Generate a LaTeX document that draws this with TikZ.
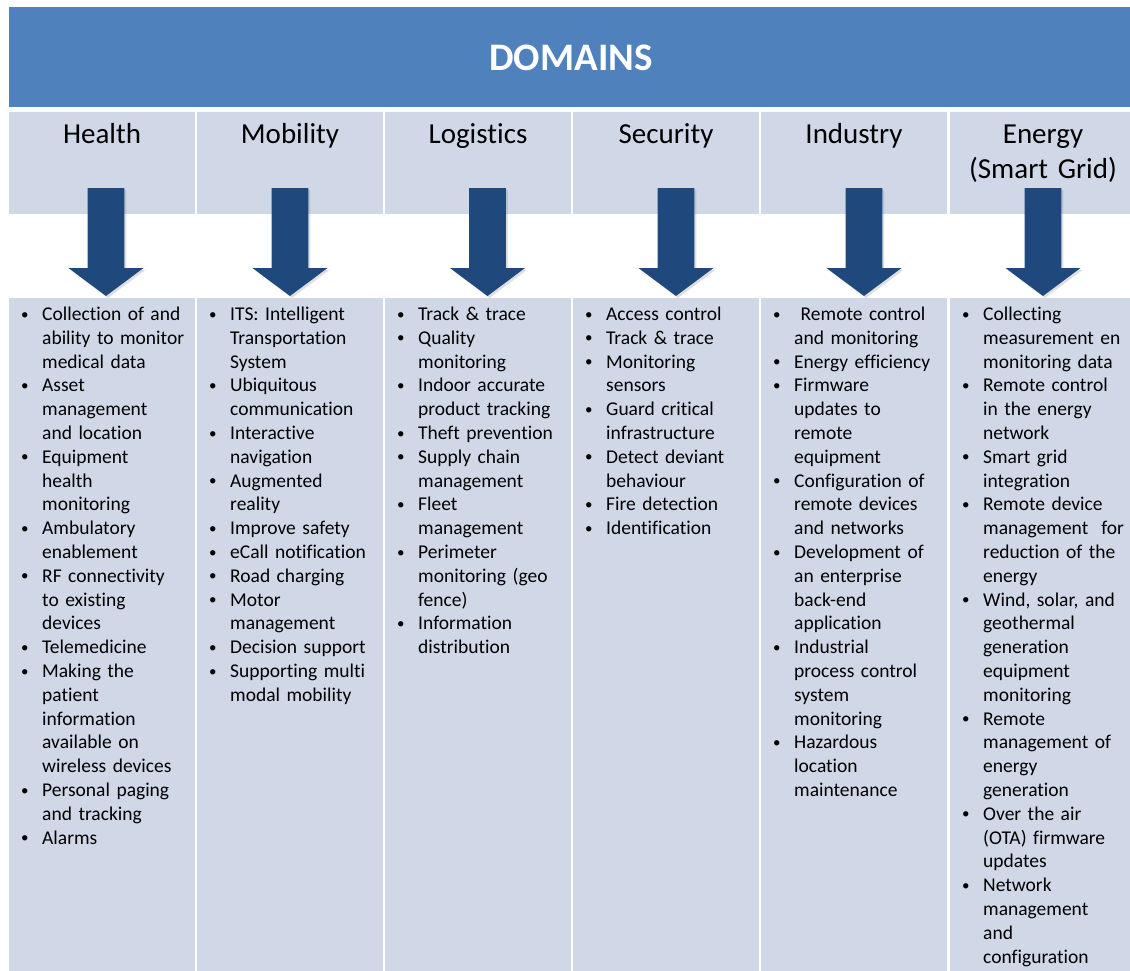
\documentclass[tikz,border=0pt]{standalone}
\usepackage{fontspec}
\setmainfont[Ligatures=NoCommon]{Carlito}
\usetikzlibrary{shadows}
\definecolor{titleblue}{HTML}{4F81BD}
\definecolor{cellblue}{HTML}{D0D8E8}
\definecolor{arrowblue}{HTML}{1F497D}
\setlength{\parskip}{0pt}
% one bullet item, hanging indent
\newcommand{\bul}[1]{{\let\\\newline\setlength{\parskip}{0pt}\hangindent=22pt\hangafter=1\noindent\makebox[22pt][l]{\hspace{1pt}\raisebox{1.5pt}{\fontsize{15}{15}\selectfont\textbullet}}#1\par}}

\begin{document}
\begin{tikzpicture}[x=1pt,y=-1pt,
	cell/.style={fill=cellblue},
	head/.style={anchor=base,inner sep=0pt,text width=180pt,align=center,font=\fontsize{29}{35.5}\selectfont},
	items/.style={anchor=base west,inner sep=0pt,text width=180pt,align=left,font=\fontsize{19.5}{23.8}\selectfont},
	downarrow/.style={fill=arrowblue,drop shadow={opacity=.25,shadow xshift=2pt,shadow yshift=-2pt}}]
	\useasboundingbox (0,0) rectangle (1130,970);
	% title bar
	\fill[titleblue] (9,7) rectangle (1137,107);
	\node[font=\fontsize{39}{47}\selectfont\bfseries,text=white] (domains) at (571,58) {DOMAINS};
	% header cells and list cells
	\foreach \L/\name/\title in {9/health/Health, 197/mobility/Mobility, 385/logistics/Logistics,
		573/security/Security, 761/industry/Industry, 950/energy/{Energy\\(Smart Grid)}}{
		\fill[cell] (\L,112) rectangle ++(186,101.7);
		\fill[cell] (\L,298) rectangle ++(186,680);
		\node[head] (\name) at (\L+93,143.3) {\title};
	}
	% block arrows
	\foreach \cx in {106,290,487.5,676,864,1043}
		\fill[downarrow] (\cx-18.3,188) -- (\cx+18.3,188) -- (\cx+18.3,268) -- (\cx+37.5,268)
			-- (\cx,296) -- (\cx-37.5,268) -- (\cx-18.3,268) -- cycle;
	% lists
	\node[items] (healthlist) at (20,320.5) {
		\bul{Collection of and\\ability to monitor\\medical data}
		\bul{Asset\\management\\and location}
		\bul{Equipment\\health\\monitoring}
		\bul{Ambulatory\\enablement}
		\bul{RF connectivity\\to existing\\devices}
		\bul{Telemedicine}
		\bul{Making the\\patient\\information\\available on\\wireless devices}
		\bul{Personal paging\\and tracking}
		\bul{Alarms}};
	\node[items] (mobilitylist) at (208,320.5) {
		\bul{ITS: Intelligent\\Transportation\\System}
		\bul{Ubiquitous\\communication}
		\bul{Interactive\\navigation}
		\bul{Augmented\\reality}
		\bul{Improve safety}
		\bul{eCall notification}
		\bul{Road charging}
		\bul{Motor\\management}
		\bul{Decision support}
		\bul{Supporting multi\\modal mobility}};
	\node[items] (logisticslist) at (396,320.5) {
		\bul{Track \& trace}
		\bul{Quality\\monitoring}
		\bul{Indoor accurate\\product tracking}
		\bul{Theft prevention}
		\bul{Supply chain\\management}
		\bul{Fleet\\management}
		\bul{Perimeter\\monitoring (geo\\fence)}
		\bul{Information\\distribution}};
	\node[items] (securitylist) at (584,320.5) {
		\bul{Access control}
		\bul{Track \& trace}
		\bul{Monitoring\\sensors}
		\bul{Guard critical\\infrastructure}
		\bul{Detect deviant\\behaviour}
		\bul{Fire detection}
		\bul{Identification}};
	\node[items] (industrylist) at (772,320.5) {
		\bul{\ Remote control\\and monitoring}
		\bul{Energy efficiency}
		\bul{Firmware\\updates to\\remote\\equipment}
		\bul{Configuration of\\remote devices\\and networks}
		\bul{Development of\\an enterprise\\back-end\\application}
		\bul{Industrial\\process control\\system\\monitoring}
		\bul{Hazardous\\location\\maintenance}};
	\node[items] (energylist) at (961,320.5) {
		\bul{Collecting\\measurement en\\monitoring data}
		\bul{Remote control\\in the energy\\network}
		\bul{Smart grid\\integration}
		\bul{Remote device\\management\ \ for\\reduction of the\\energy}
		\bul{Wind, solar, and\\geothermal\\generation\\equipment\\monitoring}
		\bul{Remote\\management of\\energy\\generation}
		\bul{Over the air\\(OTA) firmware\\updates}
		\bul{Network\\management\\and\\configuration}};
\end{tikzpicture}
\end{document}
